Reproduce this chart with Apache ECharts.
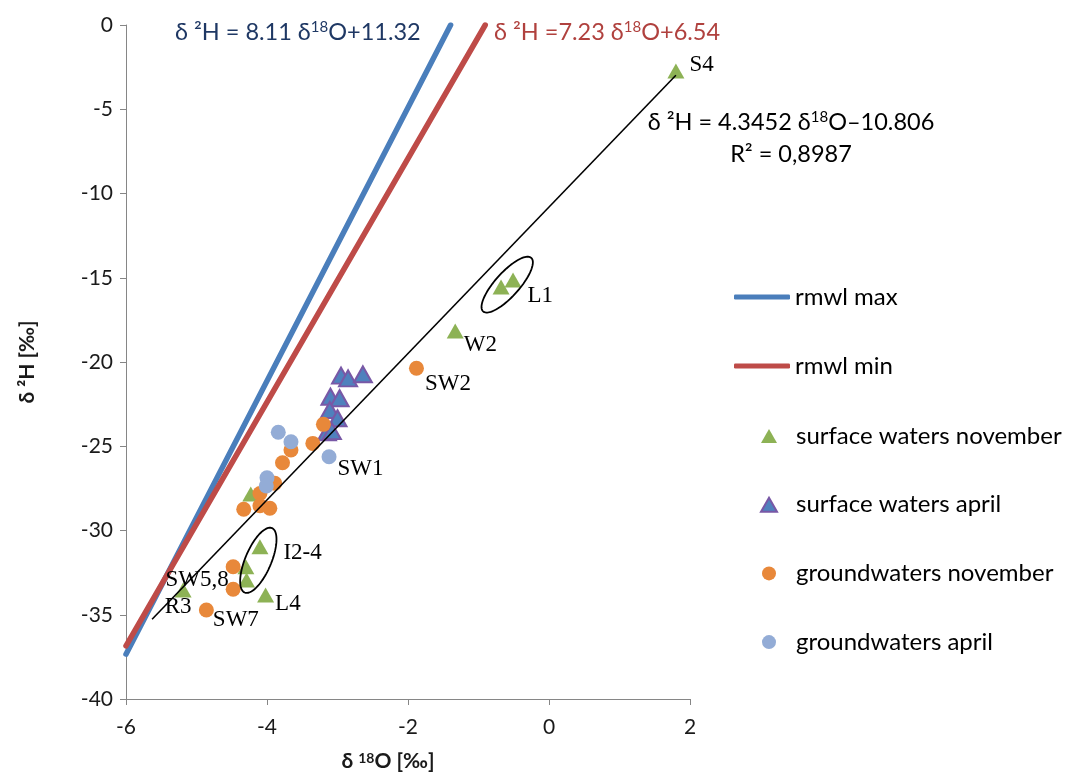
<!DOCTYPE html>
<html>
<head>
<meta charset="utf-8">
<script src="https://cdn.jsdelivr.net/npm/echarts@6/dist/echarts.min.js"></script>
<style>
  html, body { margin: 0; padding: 0; background: #ffffff; }
  #chart { width: 1072px; height: 773px; }
</style>
</head>
<body>
<div id="chart"></div>
<script>
// Isotope composition of sampled waters: δ18O [‰] and δ2H [‰]
const swNovO = [1.80, -0.68, -0.51, -1.33, -4.23, -4.10, -4.30, -4.29, -4.02, -5.19];
const swNovH = [-2.73, -15.55, -15.13, -18.16, -27.83, -30.96, -32.15, -32.94, -33.83, -33.53];
const swNovNames = ['S4', '', 'L1', 'W2', '', 'I2-4', '', '', 'L4', 'R3'];

const swAprO = [-2.95, -2.85, -2.64, -3.10, -2.97, -3.11, -3.00, -3.15, -3.08];
const swAprH = [-20.81, -20.97, -20.73, -22.06, -22.15, -22.85, -23.34, -24.17, -24.10];

const gwNovO = [-1.88, -3.20, -3.35, -3.66, -3.78, -3.89, -4.10, -4.33, -4.10, -3.96, -4.48, -4.48, -4.86];
const gwNovH = [-20.37, -23.70, -24.83, -25.22, -25.98, -27.20, -27.80, -28.74, -28.53, -28.68, -32.15, -33.49, -34.72];
const gwNovNames = ['SW2', '', '', '', '', '', '', '', '', '', '', 'SW5,8', 'SW7'];

const gwAprO = [-3.84, -3.66, -3.12, -4.00, -4.01];
const gwAprH = [-24.17, -24.73, -25.62, -26.87, -27.36];
const gwAprNames = ['', '', 'SW1', '', ''];

// Meteoric water lines and regression line: [slope, intercept]
const rmwlMaxCoef = [8.11, 11.32];
const rmwlMinCoef = [7.23, 6.54];
const trendCoef = [4.3452, -10.806];
const trendRangeO = [-5.63, 1.80];

// Sample groups circled on the plot: centre [δ18O, δ2H]
const groupCentreO = [-0.593, -4.123];
const groupCentreH = [-15.41, -31.77];

// Axis ticks
const xTicks = [-6, -4, -2, 0, 2];
const yTicks = [-40, -35, -30, -25, -20, -15, -10, -5, 0];

const UI_FONT = 'Lato';
const LABEL_FONT = 'Liberation Serif';

// label placement per sample name
const labelPlace = {
  'S4':    { position: 'right', offset: [0, -6] },
  'L1':    { position: 'right', offset: [1, 16] },
  'W2':    { position: 'right', offset: [-5, 14] },
  'SW2':   { position: 'right', offset: [-4, 16] },
  'SW1':   { position: 'right', offset: [-4, 12] },
  'I2-4':  { position: 'right', offset: [10, 6] },
  'L4':    { position: 'right', offset: [-4, 9] },
  'R3':    { position: 'bottom', offset: [-5, -7] },
  'SW5,8': { position: 'left', offset: [8, -9] },
  'SW7':   { position: 'right', offset: [-6, 10] }
};

function points(xs, ys, names) {
  return xs.map(function (x, i) {
    const item = { value: [x, ys[i]] };
    const nm = names ? names[i] : '';
    if (nm) {
      const p = labelPlace[nm];
      item.label = {
        show: true, formatter: nm, position: p.position, offset: p.offset,
        fontFamily: LABEL_FONT, fontSize: 23, color: '#000'
      };
    }
    return item;
  });
}

function lineUntilTop(coef) {
  const xTop = (0 - coef[1]) / coef[0];
  const x0 = xTicks[0];
  return [[x0, coef[0] * x0 + coef[1]], [xTop, 0]];
}

const trendData = trendRangeO.map(function (x) { return [x, trendCoef[0] * x + trendCoef[1]]; });

// outline size of the circled groups, in pixels: [semi-major, semi-minor, tilt degrees]
const ringShape = [[36, 12, 48], [35, 13, 67]];

const legendText = { fontFamily: UI_FONT, fontSize: 24, color: '#000', lineHeight: 24 };

function equation(prefix, sup, suffix, colour) {
  return {
    text: '{a|' + prefix + '}{s|' + sup + '}{a|' + suffix + '}',
    rich: {
      a: { fontFamily: UI_FONT, fontSize: 23.5, fill: colour },
      s: { fontFamily: UI_FONT, fontSize: 15, fill: colour, verticalAlign: 'top' }
    }
  };
}

const chart = echarts.init(document.getElementById('chart'), null, { renderer: 'canvas' });

chart.setOption({
  animation: false,
  backgroundColor: '#ffffff',
  grid: { left: 126, right: 382, top: 25, bottom: 74, containLabel: false, outerBoundsMode: 'none' },
  xAxis: {
    type: 'value',
    min: xTicks[0], max: xTicks[xTicks.length - 1], interval: 2,
    axisLine: { show: true, onZero: false, lineStyle: { color: '#868686', width: 1 } },
    axisTick: { show: true, length: 6, lineStyle: { color: '#868686' } },
    splitLine: { show: false },
    axisLabel: { fontFamily: UI_FONT, fontSize: 21, color: '#1a1a1a', margin: 18 },
    name: '{b|δ }{s|18}{b|O [‰]}',
    nameLocation: 'middle',
    nameGap: 52,
    nameTextStyle: {
      padding: [0, 40, 0, 0],
      rich: {
        b: { fontFamily: UI_FONT, fontSize: 21, fontWeight: 'bold', color: '#1a1a1a' },
        s: { fontFamily: UI_FONT, fontSize: 14, fontWeight: 'bold', color: '#1a1a1a', verticalAlign: 'top' }
      }
    }
  },
  yAxis: {
    type: 'value',
    min: yTicks[0], max: yTicks[yTicks.length - 1], interval: 5,
    axisLine: { show: true, onZero: false, lineStyle: { color: '#868686', width: 1 } },
    axisTick: { show: true, length: 6, lineStyle: { color: '#868686' } },
    splitLine: { show: false },
    axisLabel: { fontFamily: UI_FONT, fontSize: 21, color: '#1a1a1a', margin: 13 },
    name: 'δ ²H [‰]',
    nameLocation: 'middle',
    nameGap: 88,
    nameRotate: 90,
    nameTextStyle: { fontFamily: UI_FONT, fontSize: 21, fontWeight: 'bold', color: '#1a1a1a' }
  },
  legend: [
    {
      orient: 'vertical', left: 729, top: 280,
      itemWidth: 56, itemHeight: 5, itemGap: 45,
      icon: 'roundRect',
      textStyle: legendText,
      data: ['rmwl max', 'rmwl min']
    },
    {
      orient: 'vertical', left: 755, top: 419,
      itemWidth: 16, itemHeight: 14, itemGap: 44.7,
      textStyle: Object.assign({ padding: [0, 0, 0, 14] }, legendText),
      data: ['surface waters november', 'surface waters april', 'groundwaters november', 'groundwaters april']
    }
  ],
  graphic: [
    {
      type: 'text', x: 175, y: 32,
      style: Object.assign({ textVerticalAlign: 'middle' },
        equation('δ ²H = 8.11 δ', '18', 'O+11.32', '#1f3864'))
    },
    {
      type: 'text', x: 494, y: 32,
      style: Object.assign({ textVerticalAlign: 'middle' },
        equation('δ ²H =7.23 δ', '18', 'O+6.54', '#b0413e'))
    },
    {
      type: 'text', x: 791, y: 122,
      style: Object.assign({ textAlign: 'center', textVerticalAlign: 'middle' },
        equation('δ ²H = 4.3452 δ', '18', 'O–10.806', '#000'))
    },
    {
      type: 'text', x: 791, y: 154,
      style: {
        text: 'R² = 0,8987',
        textAlign: 'center', textVerticalAlign: 'middle',
        fontFamily: UI_FONT, fontSize: 23.5, fill: '#000'
      }
    }
  ],
  series: [
    {
      name: 'rmwl max', type: 'line', data: lineUntilTop(rmwlMaxCoef),
      symbol: 'none', z: 2,
      lineStyle: { color: '#4a7ebb', width: 5.5, cap: 'round' }, itemStyle: { color: '#4a7ebb' }
    },
    {
      name: 'rmwl min', type: 'line', data: lineUntilTop(rmwlMinCoef),
      symbol: 'none', z: 2,
      lineStyle: { color: '#be4b48', width: 5.5, cap: 'round' }, itemStyle: { color: '#be4b48' }
    },
    {
      name: 'surface waters november', type: 'scatter', z: 4,
      symbol: 'triangle', symbolSize: [17, 15],
      itemStyle: { color: '#8db255', opacity: 1 },
      data: points(swNovO, swNovH, swNovNames)
    },
    {
      name: 'surface waters april', type: 'scatter', z: 4,
      symbol: 'triangle', symbolSize: [18, 16],
      itemStyle: { color: '#4f81bd', borderColor: '#7858a6', borderWidth: 2, opacity: 1 },
      data: points(swAprO, swAprH, null)
    },
    {
      name: 'groundwaters november', type: 'scatter', z: 4,
      symbol: 'circle', symbolSize: 15,
      itemStyle: { color: '#e8883a', opacity: 1 },
      data: points(gwNovO, gwNovH, gwNovNames)
    },
    {
      name: 'groundwaters april', type: 'scatter', z: 4,
      symbol: 'circle', symbolSize: 15,
      itemStyle: { color: '#93acd6', opacity: 1 },
      data: points(gwAprO, gwAprH, gwAprNames)
    },
    {
      name: 'trend', type: 'line', data: trendData, symbol: 'none', z: 5,
      lineStyle: { color: '#000', width: 1.6 }, silent: true
    },
    {
      name: 'groups', type: 'custom', z: 5, silent: true,
      data: groupCentreO.map(function (x, i) { return [x, groupCentreH[i]]; }),
      renderItem: function (params, api) {
        const c = api.coord([api.value(0), api.value(1)]);
        const s = ringShape[params.dataIndex];
        const a = s[0], b = s[1], t = s[2] * Math.PI / 180;
        const pts = [];
        for (let k = 0; k < 96; k++) {
          const f = k / 96 * Math.PI * 2;
          const ex = a * Math.cos(f), ey = b * Math.sin(f);
          pts.push([c[0] + ex * Math.cos(t) - ey * Math.sin(t), c[1] - (ex * Math.sin(t) + ey * Math.cos(t))]);
        }
        return {
          type: 'polygon',
          shape: { points: pts },
          style: { fill: 'none', stroke: '#000', lineWidth: 1.8 }
        };
      }
    }
  ]
});
</script>
</body>
</html>
